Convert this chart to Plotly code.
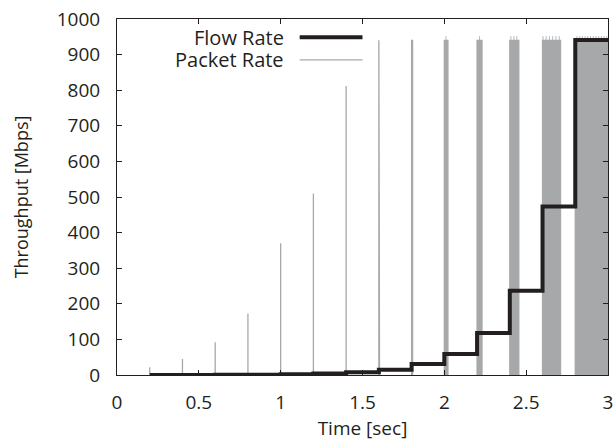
import plotly.graph_objects as go

# burst start times [sec], burst durations [sec], packet-rate peaks [Mbps]
burst_start = [0.2, 0.4, 0.6, 0.8, 1.0, 1.2, 1.4, 1.6, 1.8, 2.0, 2.2, 2.4, 2.6, 2.8]
burst_width = [0.0, 0.0, 0.0, 0.0, 0.0, 0.0, 0.0, 0.004, 0.006, 0.022, 0.03, 0.055, 0.11, 0.2]
packet_peak = [22, 45, 92, 173, 370, 510, 812, 940, 940, 940, 940, 940, 940, 940]
# short packet spikes poking above the saturated bursts
spike_time = [2.01, 2.215, 2.407, 2.425, 2.443,
              2.603, 2.622, 2.642, 2.662, 2.682, 2.702,
              2.81, 2.827, 2.843, 2.86, 2.876, 2.893, 2.91, 2.926, 2.943, 2.96, 2.976, 2.993]
spike_peak = [952] * len(spike_time)
# average flow rate over each 0.2 s interval [Mbps]
flow_rate = [0.1, 0.25, 0.5, 1, 2, 4, 7.5, 15, 31, 59, 118, 237, 473, 941]
t_end = 3.0

GRAY = "#a7a8aa"
BLACK = "#231f20"
FONT = "Open Sans"

# packet rate bursts as filled pulses
px, py = [], []
for s, w, p in zip(burst_start, burst_width, packet_peak):
    px += [s, s, s + w, s + w, None]
    py += [0, p, p, 0, None]
sx, sy = [], []
for t, p in zip(spike_time, spike_peak):
    sx += [t, t, None]
    sy += [930, p, None]

fig = go.Figure()
fig.add_trace(go.Scatter(
    x=px, y=py, mode="lines", fill="toself", fillcolor=GRAY,
    line=dict(color=GRAY, width=1.3), name="Packet Rate", showlegend=False,
))
fig.add_trace(go.Scatter(
    x=sx, y=sy, mode="lines", line=dict(color=GRAY, width=0.8),
    name="Packet Rate", showlegend=False,
))
fig.add_trace(go.Scatter(
    x=burst_start + [t_end], y=flow_rate + [flow_rate[-1]],
    mode="lines", line=dict(color=BLACK, width=4, shape="hv"),
    name="Flow Rate", showlegend=False,
))

axis_common = dict(
    showgrid=False, zeroline=False, showline=True, linecolor=BLACK, linewidth=1,
    mirror="ticks", ticks="inside", ticklen=5, tickcolor=BLACK,
    tickfont=dict(family=FONT, size=19, color=BLACK),
    automargin=False, ticklabeloverflow="allow",
)
fig.update_xaxes(
    range=[0, 3], tickvals=[0, 0.5, 1, 1.5, 2, 2.5, 3],
    ticktext=["0", "0.5", "1", "1.5", "2", "2.5", "3"], ticklabelstandoff=10,
    title=dict(text="Time [sec]", font=dict(family=FONT, size=19, color=BLACK), standoff=6),
    **axis_common,
)
fig.update_yaxes(
    range=[0, 1000], dtick=100, ticklabelstandoff=12,
    title=dict(text="Throughput [Mbps]", font=dict(family=FONT, size=18, color=BLACK), standoff=23),
    **axis_common,
)

# legend drawn gnuplot-style: label left, sample right
legend_items = [("Flow Rate", BLACK, 4, 0.949), ("Packet Rate", GRAY, 1.3, 0.885)]
for label, col, lw, yy in legend_items:
    fig.add_annotation(
        x=0.345, y=yy, xref="paper", yref="paper", xanchor="right", yanchor="middle",
        text=label, showarrow=False, height=21,
        font=dict(family=FONT, size=20, color=BLACK),
    )
    fig.add_shape(
        type="line", xref="paper", yref="paper", x0=0.372, x1=0.5, y0=yy, y1=yy,
        line=dict(color=col, width=lw),
    )

fig.update_layout(
    width=614, height=443,
    margin=dict(l=117, r=6, t=19, b=68),
    paper_bgcolor="white", plot_bgcolor="white",
    font=dict(family=FONT, color=BLACK),
)

# drop the default page margin so the figure fills the window exactly
fig.write_html("out.html", config={"displayModeBar": False},
               post_script="document.body.style.margin='0';")
